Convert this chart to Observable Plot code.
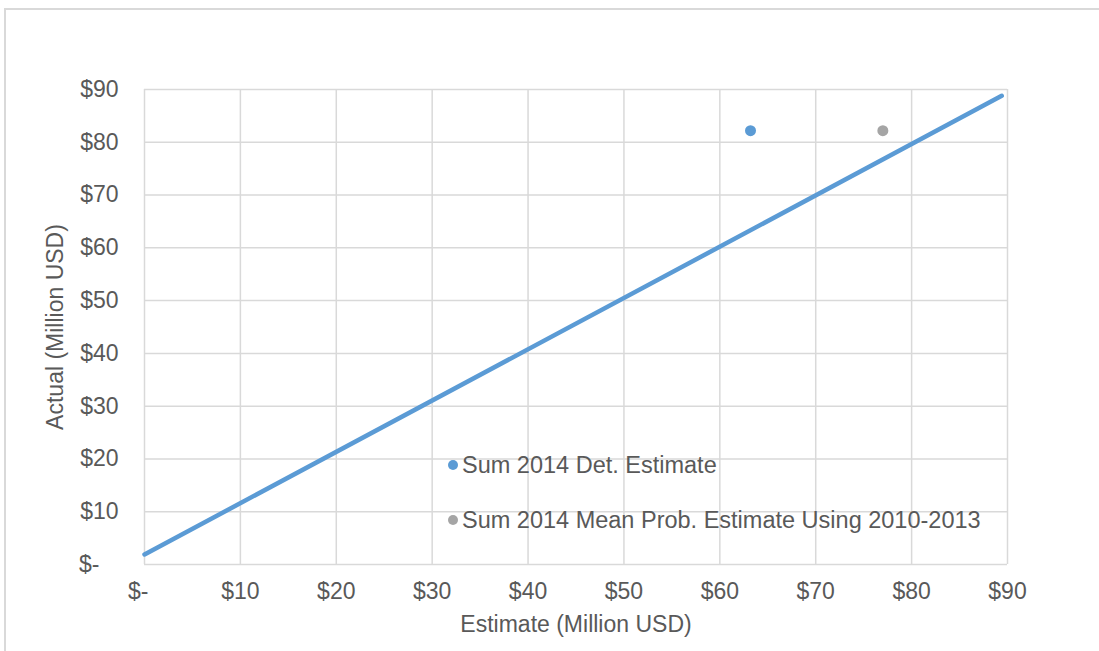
<!DOCTYPE html>
<html>
<head>
<meta charset="utf-8">
<script src="https://cdn.jsdelivr.net/npm/d3@7"></script>
<script src="https://cdn.jsdelivr.net/npm/@observablehq/plot@0.6"></script>
<style>
  html, body { margin: 0; padding: 0; background: #fff; }
  #wrap { position: relative; width: 1099px; height: 651px; overflow: hidden; font-family: "Liberation Sans", Arial, sans-serif; }
  #frame { position: absolute; left: 4px; top: 8px; right: -4px; bottom: -4px; border-top: 2px solid #d9d9d9; border-left: 2px solid #d9d9d9; }
  #chart { position: absolute; left: 0; top: 0; }
  #legend { position: absolute; left: 448px; top: 450px; color: #595959; font-size: 23.5px; }
  .item { display: flex; align-items: center; height: 30px; margin-bottom: 25px; }
  .sw { width: 10px; height: 10px; border-radius: 50%; margin-right: 4px; }
</style>
</head>
<body>
<div id="wrap">
  <div id="frame"></div>
  <div id="chart"></div>
  <div id="legend"></div>
</div>
<script>
// Data
const lineEstimate = [0, 89.4];
const lineActual = [1.9, 88.8];
const seriesNames = ["Sum 2014 Det. Estimate", "Sum 2014 Mean Prob. Estimate Using 2010-2013"];
const seriesEstimate = [63.2, 77.0];
const seriesActual = [82.2, 82.2];
const seriesColors = ["#5b9bd5", "#a5a5a5"];
const ticks = [0, 10, 20, 30, 40, 50, 60, 70, 80, 90];

const lineData = lineEstimate.map((x, i) => ({x, y: lineActual[i]}));
const points = seriesNames.map((name, i) => ({name, x: seriesEstimate[i], y: seriesActual[i], color: seriesColors[i]}));

const fmtX = d => d === 0 ? "$-\u00a0\u00a0" : "$" + d;
const fmtY = d => d === 0 ? "$-\u00a0\u00a0\u00a0" : "$" + d;
const txt = "#595959";
const grid = "#d9d9d9";
const fs = 23;

const chart = Plot.plot({
  width: 1099,
  height: 651,
  marginLeft: 144,
  marginRight: 92,
  marginTop: 89,
  marginBottom: 87,
  style: { fontFamily: "'Liberation Sans', Arial, sans-serif", fontSize: fs + "px", color: txt, background: "transparent" },
  x: { domain: [0, 90], ticks: ticks },
  y: { domain: [0, 90], ticks: ticks },
  marks: [
    Plot.ruleX(ticks, { stroke: grid, strokeWidth: 1.5 }),
    Plot.ruleY(ticks, { stroke: grid, strokeWidth: 1.5 }),
    Plot.axisX(ticks, { tickSize: 0, tickPadding: 18, tickFormat: fmtX, fill: txt, fontSize: fs, label: null }),
    Plot.axisY(ticks, { tickSize: 0, tickPadding: 26, tickFormat: fmtY, fill: txt, fontSize: fs, label: null }),
    Plot.line(lineData, { x: "x", y: "y", stroke: "#5b9bd5", strokeWidth: 4.5 }),
    Plot.dot(points, { x: "x", y: "y", fill: "color", r: 5.5 }),
    Plot.text(["Actual (Million USD)"], { frameAnchor: "left", textAnchor: "middle", rotate: -90, dx: -89, fill: txt, fontSize: fs }),
    Plot.text(["Estimate (Million USD)"], { frameAnchor: "bottom", textAnchor: "middle", dy: 67, fill: txt, fontSize: fs })
  ]
});
document.getElementById("chart").appendChild(chart);

const legend = document.getElementById("legend");
points.forEach(p => {
  const item = document.createElement("div");
  item.className = "item";
  const sw = document.createElement("span");
  sw.className = "sw";
  sw.style.background = p.color;
  const label = document.createElement("span");
  label.textContent = p.name;
  item.appendChild(sw);
  item.appendChild(label);
  legend.appendChild(item);
});
</script>
</body>
</html>
